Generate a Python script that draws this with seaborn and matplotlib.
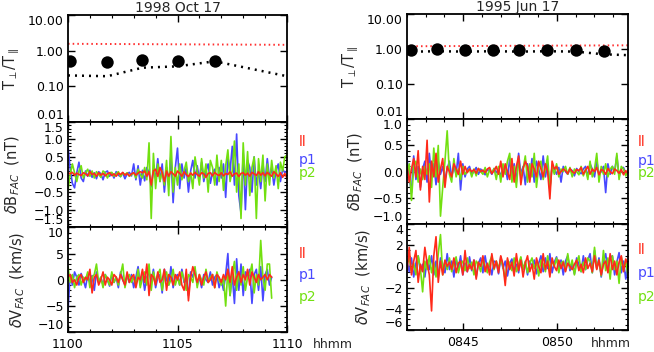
import numpy as np
import pandas as pd
import matplotlib
matplotlib.use("Agg")
import matplotlib.pyplot as plt
import seaborn as sns
from matplotlib.ticker import FixedLocator, MultipleLocator, NullLocator, FixedFormatter

# ---------------- data ----------------
# Left event: 1998 Oct 17, time in minutes after 11:00
L_title = "1998 Oct 17"
L_dot_t = [0.1, 1.8, 3.4, 5.0, 6.7]
L_dot_ratio = [0.52, 0.48, 0.53, 0.50, 0.52]
L_blk_t = [0.0, 1.8, 3.4, 5.0, 6.7, 10.0]
L_blk_ratio = [0.20, 0.19, 0.33, 0.36, 0.50, 0.19]
L_red_t = [0.0, 10.0]
L_red_ratio = [1.55, 1.45]

L_B_start, L_B_step = 0.0, 0.1
L_B_p1 = [0.80, 0.15, -0.25, -0.38, 0.05, 0.35, -0.10, -0.20, 0.10, -0.05,
          0.12, -0.08, 0.05, -0.12, 0.08, 0.02, -0.15, 0.06, 0.10, -0.05,
          0.04, -0.10, 0.08, -0.02, -0.06, 0.05, -0.12, 0.02, 0.06, -0.04,
          0.30, -0.15, 0.25, -0.30, 0.12, -0.18, 0.20, 0.05, -0.35, 0.15,
          -0.10, 0.45, -0.20, 0.30, -0.50, 0.20, -0.30, 0.55, -0.80, 0.20,
          0.75, -0.40, 0.30, -0.10, 0.20, -0.50, 0.10, 0.40, -0.10, 0.25,
          -0.15, 0.35, -0.20, 0.10, 0.30, -0.25, 0.05, 0.15, -0.30, 0.20,
          -0.10, 0.30, -0.65, 0.50, 0.10, 0.80, -0.30, 1.15, -0.60, -1.10,
          0.60, -1.00, 0.40, 0.20, -0.50, 0.50, -0.30, 0.10, -0.40, 0.30,
          -0.20, 0.45, -0.10, 0.20, -0.30, 0.10, 0.30, -0.20, 0.15, 0.05, 0.10]
L_B_p2 = [-0.45, 0.00, 0.30, 0.05, -0.20, 0.10, 0.25, -0.10, 0.05, 0.15,
          -0.05, 0.10, -0.10, 0.08, 0.00, -0.08, 0.10, 0.05, -0.10, 0.05,
          0.06, -0.05, 0.02, 0.08, -0.06, 0.04, 0.00, 0.05, -0.05, 0.00,
          0.05, -0.10, 0.15, 0.00, -0.10, 0.20, -0.15, 0.90, -1.25, 0.60,
          -0.40, 0.30, -0.20, 0.10, -0.30, 0.40, -0.60, 1.08, -0.50, 0.20,
          -0.30, 0.30, -0.15, 0.10, 0.35, -0.20, 0.05, -0.40, 0.50, 0.10,
          -0.30, 0.45, -0.10, 0.30, -0.50, 0.40, 0.20, -0.30, 0.55, -0.20,
          0.40, -0.45, 0.25, 0.70, -0.20, 0.10, 0.95, -0.50, 0.30, -1.25,
          0.90, -0.30, 0.65, -0.60, 0.20, 0.50, -1.25, 0.45, -0.20, 0.55,
          -0.75, 0.30, -0.30, 0.40, -0.10, 0.25, -0.40, 0.35, 0.10, 0.50, 0.55]
L_B_ll = [0.05, 0.02, 0.06, -0.02, 0.04, 0.00, -0.03, 0.05, 0.02, -0.04,
          0.08, 0.00, 0.03, -0.05, 0.05, -0.02, 0.03, -0.04, 0.02, 0.05,
          -0.03, 0.02, -0.05, 0.04, 0.00, 0.06, -0.02, 0.03, -0.04, 0.02,
          0.05, -0.02, 0.04, 0.08, 0.05, 0.10, -0.05, 0.08, -0.30, 0.10,
          0.15, -0.05, 0.20, 0.05, -0.20, 0.10, -0.05, 0.08, 0.02, -0.05,
          0.10, 0.03, -0.05, 0.08, 0.00, -0.06, 0.04, -0.02, 0.06, 0.00,
          -0.05, 0.05, 0.02, -0.08, 0.03, 0.05, -0.04, 0.06, 0.00, -0.03,
          0.05, -0.04, 0.03, 0.00, 0.08, -0.05, 0.02, 0.04, -0.06, 0.03,
          0.05, -0.02, 0.04, -0.05, 0.06, 0.02, -0.03, 0.08, -0.02, 0.05,
          -0.04, 0.06, 0.00, -0.05, 0.08, 0.02, -0.06, 0.05, -0.08, 0.03, -0.10]

L_V_start, L_V_step = 0.0, 0.1
L_V_p1 = [-5.8, 1.0, -1.0, 1.5, 0.5, -1.0, 1.2, 0.0, -1.5, 1.0,
          -0.5, 0.8, -2.0, 1.5, -0.5, 0.5, -1.0, 1.0, 0.0, -1.2,
          1.0, -0.5, 0.5, -1.5, 1.5, 0.0, -1.0, 0.8, -0.5, 1.0,
          -1.5, 0.5, 2.5, -1.0, 1.0, -2.0, 0.5, 1.5, -0.5, 2.0,
          -1.5, 0.5, 1.0, -2.5, 2.0, 0.0, -1.0, 2.5, -1.5, 0.5,
          1.0, -1.0, 2.0, -0.5, 0.0, -3.0, 1.5, 0.5, 2.0, -1.0,
          0.5, -1.5, 1.0, 0.0, -0.5, 1.5, -1.0, 0.5, 1.0, -1.5,
          0.0, -2.0, 1.0, 5.0, -3.0, 1.0, -4.5, 4.0, -2.0, 3.0,
          -3.0, 1.5, 0.5, 2.0, -4.5, 1.0, 2.0, -2.0, 2.5, -4.0,
          1.0, 2.0, -1.0, 0.5]
L_V_p2 = [2.5, -0.5, 1.0, -1.5, 0.5, 1.0, -1.0, 0.5, 0.0, 1.5,
          -1.5, 0.5, 1.0, 3.0, -0.5, 0.5, -1.5, 1.0, 0.0, -1.0,
          1.5, -0.5, 0.5, -1.0, 1.0, 3.0, -1.5, 0.5, 1.0, -0.5,
          0.5, -1.0, 2.0, -1.5, 0.5, 1.5, -1.0, 3.0, -2.0, 1.5,
          -0.5, 1.0, 2.0, -2.0, 0.5, 1.5, -1.0, 0.0, 2.0, -1.0,
          0.5, -1.0, 1.5, 0.0, -2.0, 1.0, 0.5, -0.5, 2.5, -1.5,
          1.0, 0.0, -1.0, 2.0, -0.5, 0.5, 1.0, -1.5, 1.5, 0.0,
          -1.0, 0.5, -5.0, 2.0, -3.0, 1.0, 3.5, -2.0, 1.5, -1.0,
          2.5, -2.0, 0.5, 1.0, 3.0, -2.5, 1.0, -1.0, 7.5, 0.5,
          -2.0, 3.0, 3.0, -3.5]
L_V_ll = [0.5, 1.0, -0.5, 0.0, -1.0, 0.5, 1.0, -0.5, 0.5, 0.0,
          2.0, -2.5, 0.5, 1.0, -1.0, 0.0, 1.5, -1.0, 0.5, 0.0,
          -1.0, 1.0, 0.5, -0.5, 1.0, 0.0, -1.0, 1.5, -0.5, 0.5,
          1.0, -1.5, 0.5, 0.0, 2.0, -0.5, 3.0, -3.0, 1.0, 0.5,
          -1.0, 1.5, -0.5, 0.0, 2.0, -2.0, 1.0, 0.5, -1.0, 1.0,
          0.0, 1.5, -1.0, -2.0, 2.0, -4.0, 0.5, 2.5, 1.0, -0.5,
          1.0, -1.0, 0.5, 1.5, -0.5, 0.0, 1.0, -1.5, 1.0, 0.5,
          -0.5, 1.0, 0.0, 2.0, -0.5, 2.5, -1.0, 0.5, 1.5, -0.5,
          1.0, 0.0, 2.0, -1.0, 1.5, 0.5, -0.5, 1.0, 0.0, 0.5,
          1.0, 0.0, 1.0, 0.5]

# Right event: 1995 Jun 17, time in minutes after 08:00
R_title = "1995 Jun 17"
R_dot_t = [42.2, 43.6, 45.1, 46.6, 48.0, 49.5, 51.0, 52.5]
R_dot_ratio = [0.93, 1.00, 0.95, 0.97, 0.95, 0.97, 0.93, 0.90]
R_blk_t = [42.0, 43.6, 45.1, 46.6, 48.0, 49.5, 51.0, 52.5, 53.8]
R_blk_ratio = [0.85, 0.88, 0.86, 0.88, 0.86, 0.88, 0.86, 0.72, 0.68]
R_red_t = [42.0, 53.8]
R_red_ratio = [1.22, 1.30]

R_start, R_end = 42.0, 53.8
R_B_p1 = [0.25, -0.10, -0.40, 0.30, -0.15, 0.10, -0.30, 0.05, 0.20, -0.20,
          0.35, -0.10, 0.15, -0.25, 0.20, -0.05, 0.10, -0.15, 0.05, 0.20,
          -0.10, 0.10, -0.05, 0.35, -0.35, 0.15, -0.10, 0.05, 0.10, -0.05,
          0.00, 0.08, -0.05, 0.05, 0.00, -0.06, 0.04, 0.02, -0.05, 0.06,
          -0.02, 0.04, -0.08, 0.05, 0.10, -0.15, 0.25, -0.10, 0.15, -0.20,
          0.35, -0.05, 0.10, -0.25, 0.15, -0.10, 0.25, -0.20, 0.20, 0.05,
          -0.15, 0.30, -0.10, 0.15, -0.30, 0.10, 0.05, -0.05, 0.08, -0.20,
          0.10, 0.00, -0.05, 0.05, 0.02, -0.08, 0.06, 0.00, -0.04, 0.05,
          0.10, -0.10, 0.15, 0.05, -0.10, 0.20, -0.05, 0.00, 0.10, -0.40,
          0.15, -0.05, 0.10, 0.00, 0.30, -0.10, 0.05, 0.08, -0.05, 0.00]
R_B_p2 = [-0.05, 0.15, -0.55, 0.10, 0.20, -0.20, 0.05, -0.15, 0.10, -0.05,
          0.15, -0.30, 0.45, -0.10, 0.50, -0.85, -0.30, 0.20, 0.78, -0.05,
          -0.20, 0.25, -0.10, 0.05, -0.15, 0.10, -0.05, 0.00, 0.05, -0.10,
          0.05, -0.08, 0.06, 0.00, -0.05, 0.08, -0.10, 0.04, -0.02, 0.06,
          -0.15, 0.10, -0.20, 0.15, -0.05, 0.20, 0.35, -0.20, 0.10, -0.30,
          0.25, -0.10, 0.05, 0.30, -0.20, 0.15, -0.10, 0.35, -0.30, 0.10,
          0.20, -0.15, 0.05, 0.30, -0.35, 0.10, -0.05, 0.15, -0.10, 0.05,
          0.00, 0.10, -0.05, 0.08, -0.10, 0.05, 0.00, -0.06, 0.10, -0.08,
          0.05, -0.15, 0.20, -0.10, 0.05, 0.35, -0.20, 0.10, -0.05, 0.15,
          -0.10, 0.05, 0.10, -0.05, 0.35, -0.15, 0.10, 0.05, -0.08, 0.03]
R_B_ll = [0.10, -0.20, 0.05, 0.25, -0.10, 0.40, -0.35, 0.10, -0.15, 0.60,
          -0.58, 0.20, -0.10, 0.35, -0.20, 0.05, 0.25, -0.30, 0.10, 0.00,
          -0.10, 0.15, 0.05, -0.05, 0.20, -0.05, 0.10, -0.02, 0.05, 0.00,
          0.04, -0.03, 0.06, 0.00, 0.03, -0.02, 0.05, 0.08, -0.04, 0.02,
          0.10, -0.05, 0.20, -0.10, 0.15, 0.00, -0.15, 0.25, -0.20, 0.10,
          0.30, -0.25, 0.05, 0.20, 0.10, -0.20, 0.15, 0.05, -0.10, 0.20,
          0.05, -0.10, 0.15, 0.00, -0.52, 0.20, 0.05, 0.10, -0.05, 0.00,
          0.05, 0.02, -0.04, 0.06, 0.00, -0.03, 0.04, 0.02, 0.08, -0.05,
          0.03, 0.10, -0.05, 0.05, 0.00, 0.08, -0.06, 0.04, 0.02, -0.05,
          0.06, 0.00, -0.04, 0.05, 0.02, -0.03, 0.04, -0.06, 0.02, -0.04]

R_V_p1 = [0.5, -0.5, 0.8, -1.0, 0.3, 1.0, -0.5, 0.2, -1.0, 0.6,
          -0.3, 1.0, -0.8, 0.5, -1.0, 0.8, 0.2, -0.6, 1.2, -0.3,
          0.5, -1.0, 0.7, -0.2, 1.0, -0.8, 0.3, -0.5, 0.9, -0.4,
          0.6, -1.0, 0.3, 0.8, -0.6, 1.0, -0.3, 0.2, -0.8, 0.5,
          0.4, -0.7, 0.9, -0.2, 0.5, -0.9, 0.3, 0.7, -0.5, 0.2,
          -0.6, 0.8, -0.3, 0.4, -0.8, 0.5, 0.0, 0.6, -0.7, 0.3,
          1.0, -0.5, 0.8, -0.2, 1.2, -0.6, 0.4, 0.9, -0.3, 0.6,
          -0.8, 0.5, 1.0, -0.4, 0.3, -0.7, 0.8, 0.2, -0.5, 1.0,
          -0.3, 0.6, 1.2, -0.6, 1.5, -0.2, 0.8, -1.0, 0.5, 1.2,
          -0.5, 0.8, 1.0, -0.8, 0.4, 1.3, -0.6, 0.5, -1.2, 0.3]
R_V_p2 = [0.2, 0.8, -0.5, 0.3, -0.8, 1.0, -0.2, -2.4, 0.5, -0.3,
          1.0, -0.6, 0.4, -1.0, 1.2, 3.0, -0.8, 0.5, -0.3, 0.8,
          -0.5, 0.3, 0.9, -0.6, 0.2, 0.5, -0.4, 0.8, -0.2, 0.4,
          -0.8, 0.5, 0.2, -0.5, 0.8, 0.0, -0.6, 0.4, 1.0, -0.3,
          0.5, -0.2, 0.7, 0.0, -1.3, 0.6, 0.3, -0.4, 0.8, -0.5,
          0.2, 0.9, -0.3, 0.5, -0.6, 0.3, 0.8, -0.2, 0.4, -0.9,
          0.6, 0.2, -0.5, 1.0, -0.3, 0.5, 0.0, 0.8, -0.6, 0.3,
          0.5, -0.4, 1.2, -0.2, 0.6, -0.8, 0.3, 1.0, -0.5, 0.4,
          -0.3, 0.8, 0.5, -0.6, 1.8, -0.2, 0.6, -0.9, 1.5, -0.4,
          0.8, -1.2, 1.0, -0.3, 0.5, -1.6, 0.9, -0.4, 0.6, -1.0]
R_V_ll = [-0.5, 1.8, -0.8, 0.5, 1.5, -1.5, 0.2, -0.5, 1.8, 0.3,
          -0.8, -4.2, 1.0, 2.8, -1.5, 0.5, -0.8, 0.6, 0.0, 0.4,
          -0.3, 0.8, -0.6, 0.3, 0.5, -0.8, 1.5, -0.5, 0.2, -0.3,
          0.6, -1.2, 0.4, 0.0, 1.0, -0.5, 0.3, -0.8, 1.2, -0.2,
          0.5, -0.6, 1.0, 0.2, -1.8, 0.8, -0.3, 0.4, -0.9, 1.2,
          -0.4, 0.6, -1.0, 0.3, 1.0, -0.5, 0.2, -1.2, 0.8, 0.0,
          -0.6, 1.2, -0.3, 0.5, -1.0, 0.8, 0.0, -0.4, 0.6, -0.2,
          0.4, -0.5, 0.3, 0.0, -0.3, 0.2, 0.6, -0.4, 0.2, -0.6,
          0.8, -0.2, 0.3, -0.5, 1.0, -0.3, 0.6, -0.8, 0.2, 0.5,
          -0.6, 1.2, -0.3, 0.5, -0.8, 0.4, 1.0, -0.5, 0.7, 0.2]

L_xticks = [0, 5, 10]
L_xticklabels = ["1100", "1105", "1110"]
R_xticks = [45, 50]
R_xticklabels = ["0845", "0850"]
ratio_ticks = [0.01, 0.1, 1.0, 10.0]
ratio_labels = ["0.01", "0.10", "1.00", "10.00"]
series_names = ["ll", "p1", "p2"]

# ---------------- style ----------------
sns.set_style("white")
plt.rcParams["font.family"] = ["DejaVu Sans"]
plt.rcParams["mathtext.fontset"] = "dejavusans"
FS = 9
C_LL, C_P1, C_P2 = "#ff2a1a", "#4848ff", "#72e010"

W, H = 654, 352
fig = plt.figure(figsize=(W / 100, H / 100), dpi=100)


def add_ax(x0, x1, y0, y1):
    return fig.add_axes([x0 / W, 1 - y1 / H, (x1 - x0) / W, (y1 - y0) / H])


def style_ax(ax, xlim, xmajor, yminor):
    ax.set_xlim(*xlim)
    for s in ax.spines.values():
        s.set_linewidth(1.3)
        s.set_color("black")
    ax.xaxis.set_major_locator(FixedLocator(xmajor))
    ax.xaxis.set_minor_locator(MultipleLocator(1))
    ax.tick_params(which="both", direction="in", top=True, right=True,
                   bottom=True, left=True, labelsize=FS, colors="black", pad=3)
    ax.tick_params(which="major", length=5, width=1.0)
    ax.tick_params(which="minor", length=2.5, width=0.8)
    if yminor is not None:
        ax.yaxis.set_minor_locator(MultipleLocator(yminor))
    ax.set_xlabel("")
    ax.grid(False)


def panel_ratio(ax, dot_t, dot_r, blk_t, blk_r, red_t, red_r, xlim, xmajor):
    sns.lineplot(x=red_t, y=red_r, ax=ax, color="#ff3030", lw=1.4)
    ax.lines[-1].set_linestyle((0, (0.8, 1.6)))
    sns.lineplot(x=blk_t, y=blk_r, ax=ax, color="black", lw=1.8)
    ax.lines[-1].set_linestyle((0, (0.8, 2.0)))
    sns.scatterplot(x=dot_t, y=dot_r, ax=ax, color="black", s=80,
                    edgecolor="black", linewidth=0, zorder=5)
    ax.set_yscale("log")
    ax.set_ylim(0.01, 10)
    style_ax(ax, xlim, xmajor, None)
    ax.yaxis.set_major_locator(FixedLocator(ratio_ticks))
    ax.yaxis.set_major_formatter(FixedFormatter(ratio_labels))
    ax.yaxis.set_minor_locator(NullLocator())
    ax.tick_params(axis="x", labelbottom=False)
    ax.set_ylabel(r"$\mathrm{T}_{\perp}/\mathrm{T}_{\parallel}$", fontsize=FS + 1.5)


def panel_series(ax, t, ll, p1, p2, xlim, xmajor, ylim, yticks, yminor,
                 ylabel, leg_y, leg_x):
    for vals, col in ((p1, C_P1), (p2, C_P2), (ll, C_LL)):
        df = pd.DataFrame({"t": t[:len(vals)], "v": vals})
        sns.lineplot(data=df, x="t", y="v", ax=ax, color=col, lw=1.2,
                     estimator=None, sort=False)
    ax.set_ylim(*ylim)
    style_ax(ax, xlim, xmajor, yminor)
    ax.yaxis.set_major_locator(FixedLocator(yticks))
    ax.set_ylabel(ylabel, fontsize=FS + 1.5)
    for name, col, yy in zip(series_names, (C_LL, C_P1, C_P2), leg_y):
        ax.text(leg_x, yy, name, transform=ax.transAxes, color=col,
                fontsize=FS + 1, ha="left", va="center", clip_on=False)


# ---------------- left column ----------------
tL_B = L_B_start + L_B_step * np.arange(len(L_B_p1))
tL_V = L_V_start + L_V_step * np.arange(len(L_V_p1))
LX0, LX1 = 68, 287

axL1 = add_ax(LX0, LX1, 15, 121.7)
panel_ratio(axL1, L_dot_t, L_dot_ratio, L_blk_t, L_blk_ratio, L_red_t, L_red_ratio,
            (0, 10), L_xticks)
axL1.set_title(L_title, fontsize=FS + 1, pad=2)
axL1.yaxis.set_label_coords(-0.21, 0.5)

axL2 = add_ax(LX0, LX1, 121.7, 227.3)
panel_series(axL2, tL_B, L_B_ll, L_B_p1, L_B_p2, (0, 10), L_xticks,
             (-1.5, 1.5), [-1.5, -1.0, -0.5, 0.0, 0.5, 1.0, 1.5], 0.1,
             r"$\delta\mathrm{B}_{FAC}$  (nT)", (0.81, 0.64, 0.51), 1.055)
axL2.tick_params(axis="x", labelbottom=False)
axL2.yaxis.set_label_coords(-0.21, 0.5)

axL3 = add_ax(LX0, LX1, 227.3, 332.3)
panel_series(axL3, tL_V, L_V_ll, L_V_p1, L_V_p2, (0, 10), L_xticks,
             (-10, 10), [-10, -5, 0, 5, 10], 1,
             r"$\delta\mathrm{V}_{FAC}$  (km/s)", (0.75, 0.55, 0.34), 1.055)
axL3.set_xticks(L_xticks)
axL3.set_xticklabels(L_xticklabels)
axL3.tick_params(axis="x", pad=4)
axL3.yaxis.set_label_coords(-0.185, 0.5)
axL3.text(1.12, -0.12, "hhmm", transform=axL3.transAxes, fontsize=FS,
          ha="left", va="center")

# ---------------- right column ----------------
tR = np.linspace(R_start, R_end, len(R_B_p1))
RX0, RX1 = 407, 628

axR1 = add_ax(RX0, RX1, 14.3, 119.3)
panel_ratio(axR1, R_dot_t, R_dot_ratio, R_blk_t, R_blk_ratio, R_red_t, R_red_ratio,
            (R_start, R_end), R_xticks)
axR1.set_title(R_title, fontsize=FS + 1, pad=2)
axR1.yaxis.set_label_coords(-0.21, 0.5)

axR2 = add_ax(RX0, RX1, 119.3, 224)
panel_series(axR2, tR, R_B_ll, R_B_p1, R_B_p2, (R_start, R_end), R_xticks,
             (-1, 1), [-1.0, -0.5, 0.0, 0.5, 1.0], 0.1,
             r"$\delta\mathrm{B}_{FAC}$  (nT)", (0.78, 0.6, 0.49), 1.045)
axR2.tick_params(axis="x", labelbottom=False)
axR2.yaxis.set_label_coords(-0.19, 0.5)

axR3 = add_ax(RX0, RX1, 224, 330)
panel_series(axR3, tR, R_V_ll, R_V_p1, R_V_p2, (R_start, R_end), R_xticks,
             (-6, 4), [-6, -4, -2, 0, 2, 4], 0.5,
             r"$\delta\mathrm{V}_{FAC}$  (km/s)", (0.755, 0.535, 0.315), 1.045)
axR3.set_xticks(R_xticks)
axR3.set_xticklabels(R_xticklabels)
axR3.tick_params(axis="x", pad=4)
axR3.yaxis.set_label_coords(-0.153, 0.5)
axR3.text(0.83, -0.13, "hhmm", transform=axR3.transAxes, fontsize=FS,
          ha="left", va="center")

# shift the extreme y tick labels inward (as in the original IDL layout)
fig.canvas.draw()
for ax in (axL1, axL2, axL3, axR1, axR2, axR3):
    lo, hi = ax.get_ylim()
    for tick in ax.yaxis.get_major_ticks():
        loc = tick.get_loc()
        if np.isclose(loc, lo):
            tick.label1.set_va("bottom")
        elif np.isclose(loc, hi):
            tick.label1.set_va("top")

fig.savefig("out.png", dpi=100)
